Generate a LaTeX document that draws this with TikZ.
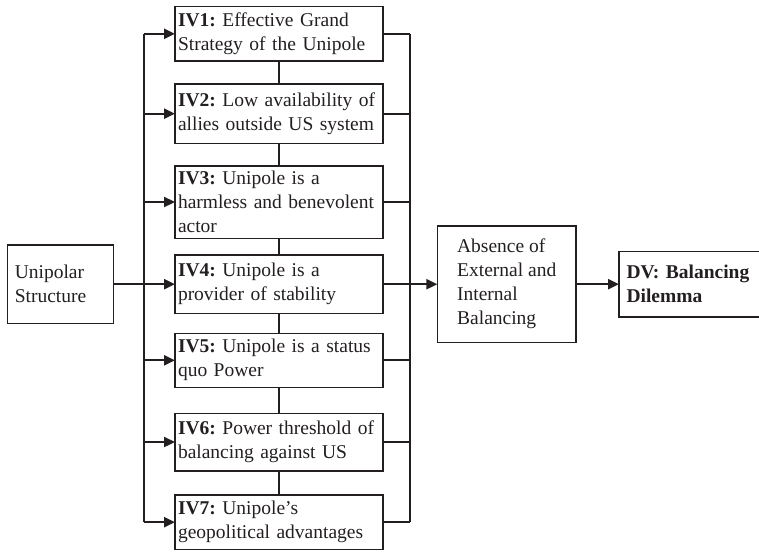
\documentclass[tikz,border=0pt]{standalone}
\usepackage{fontspec}
\setmainfont{Liberation Serif}
\usetikzlibrary{arrows.meta,calc}
\definecolor{ink}{HTML}{231F20}
\newcommand{\oneline}[1]{\mbox{#1}}
\tikzset{
  box/.style={draw=ink, line width=1.6pt, text=ink, font=\frenchspacing\fontsize{19.5pt}{24pt}\selectfont, outer sep=0pt},
  ivbox/.style={box, text width=202pt, inner xsep=3pt, inner ysep=2pt, align=left, minimum width=208pt},
  bus/.style={draw=ink, line width=2.3pt},
  link/.style={draw=ink, line width=1.6pt},
  arr/.style={-{Triangle[length=11pt,width=10pt]}, draw=ink, fill=ink, line width=2.3pt}
}
\begin{document}
\begin{tikzpicture}[x=1pt,y=1pt]
\useasboundingbox (0,0) rectangle (759,-551);
\clip (0,0) rectangle (759,-551);
% IV boxes
\node[ivbox, minimum height=54.3pt] (iv1) at (279,-33.8) {\oneline{\textbf{IV1:} Effective Grand}\\\oneline{Strategy of the Unipole}};
\node[ivbox, minimum height=59.3pt] (iv2) at (279,-113.7) {\oneline{\textbf{IV2:} Low availability of}\\\oneline{allies outside US system}};
\node[ivbox, minimum height=72.6pt] (iv3) at (279,-202) {\oneline{\textbf{IV3:} Unipole is a}\\\oneline{harmless and benevolent}\\\oneline{actor}};
\node[ivbox, minimum height=58.3pt] (iv4) at (279,-284.2) {\oneline{\textbf{IV4:} Unipole is a}\\\oneline{provider of stability}};
\node[ivbox, minimum height=54pt] (iv5) at (279,-360.3) {\oneline{\textbf{IV5:} Unipole is a status}\\\oneline{quo Power}};
\node[ivbox, minimum height=57.4pt] (iv6) at (279,-442) {\oneline{\textbf{IV6:} Power threshold of}\\\oneline{balancing against US}};
\node[ivbox, minimum height=54.3pt] (iv7) at (279,-522.2) {\oneline{\textbf{IV7:} Unipole’s}\\\oneline{geopolitical advantages}};
% other boxes
\node[box, text width=91pt, inner xsep=7.5pt, align=left, minimum width=106pt, minimum height=78.3pt] (uni) at (60.3,-284.2) {Unipolar\\Structure};
\node[box, align=left, minimum width=138.7pt, minimum height=116.3pt] (abs) at (506.7,-284.2) {Absence of\\External and\\Internal\\Balancing};
\node[box, text width=145pt, inner xsep=7.5pt, align=left, minimum width=160pt, minimum height=65.7pt, anchor=west] (dv) at (619,-284.2) {\oneline{\textbf{DV: Balancing}}\\\textbf{Dilemma}};
% bus coordinates
\coordinate (busL) at (144,0);
\coordinate (busR) at (410,0);
% links between IV boxes
\foreach \a/\b in {iv1/iv2,iv2/iv3,iv3/iv4,iv4/iv5,iv5/iv6,iv6/iv7}
  \draw[link] (\a.south) -- (\b.north);
% left bus
\draw[bus] (iv1.west -| busL) -- (iv7.west -| busL);
\foreach \n in {iv1,iv2,iv3,iv5,iv6,iv7}
  \draw[arr] (\n.west -| busL) -- (\n.west);
\draw[arr] (uni.east) -- (iv4.west);
% right bus
\draw[bus] (iv1.east -| busR) -- (iv7.east -| busR);
\foreach \n in {iv1,iv2,iv3,iv5,iv6,iv7}
  \draw[bus] (\n.east) -- (\n.east -| busR);
\draw[arr] (iv4.east) -- (abs.west);
\draw[arr] (abs.east) -- (dv.west);
\end{tikzpicture}
\end{document}
